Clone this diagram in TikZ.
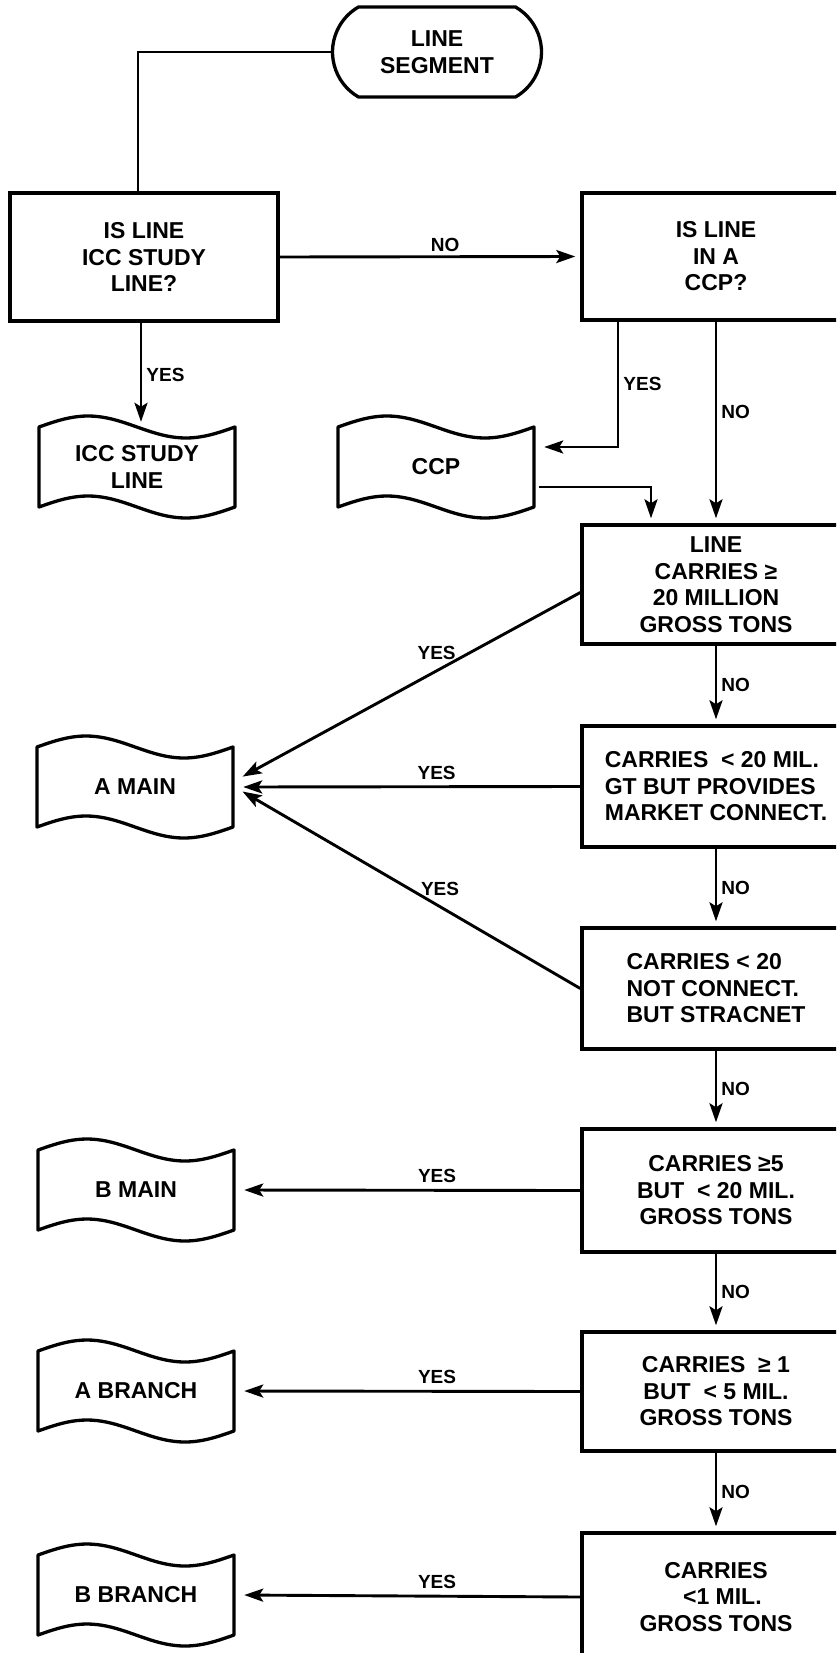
\documentclass[tikz,border=0pt]{standalone}
\usepackage{fontspec}
\setmainfont{Liberation Sans}
\usepackage{tikz}
\usetikzlibrary{arrows.meta, shapes.misc}

\newcommand{\boxfont}{\fontsize{23}{26.5}\selectfont\bfseries}
\newcommand{\lblfont}{\fontsize{19}{21}\selectfont\bfseries}

\tikzset{
  startbox/.style={draw, rounded rectangle, rounded rectangle arc length=120, line width=3.3pt,
    minimum width=209pt, minimum height=90pt, align=center, inner sep=0pt, font=\boxfont},
  testbox/.style={draw, line width=3.4pt, minimum width=268pt, minimum height=121pt,
    align=center, inner sep=0pt, font=\boxfont},
  doctext/.style={minimum width=206pt, minimum height=80pt, align=center, inner sep=0pt, font=\boxfont},
  docline/.style={line width=3.3pt, line join=round},
  conn/.style={line width=2.9pt},
  arr/.style={conn, -{Stealth[length=19pt, width=13pt, inset=4pt]}, shorten >=5pt},
  lbl/.style={font=\lblfont, inner sep=4pt}
}

% wavy document symbol: name, x, y, text
\newcommand{\wavedoc}[4]{%
  \draw[docline] ({#2-98},{#3-40}) -- ({#2-98},{#3+40})
    -- plot[domain=0:1, samples=41, variable=\t] ({#2-98+196*\t},{#3+40-11*sin(360*\t)})
    -- ({#2+98},{#3-40})
    -- plot[domain=1:0, samples=41, variable=\t] ({#2-98+196*\t},{#3-40-11*sin(360*\t)})
    -- cycle;
  \node[doctext] (#1) at (#2,#3) {#4};
}

\begin{document}
\begin{tikzpicture}[x=1pt, y=-1pt]
  \useasboundingbox (0,0) rectangle (836,1653);
  \clip (0,0) rectangle (836,1653);

  % Start and tests
  \node[startbox] (start) at (437,52) {LINE\\SEGMENT};
  \node[testbox, minimum height=128pt] (box1) at (144,257) {IS LINE\\ICC STUDY\\LINE?};
  \node[testbox, minimum height=127pt] (box2) at (716,256.5) {IS LINE\\IN A\\CCP?};
  \node[testbox, minimum height=119pt] (box3) at (716,584.5) {LINE\\CARRIES ≥\\20 MILLION\\GROSS TONS};
  \node[testbox, align=left] (box4) at (716,786.5) {CARRIES \ < 20 MIL.\\GT BUT PROVIDES\\MARKET CONNECT.};
  \node[testbox, align=left] (box5) at (716,988.5) {CARRIES < 20\\NOT CONNECT.\\BUT STRACNET};
  \node[testbox, minimum height=123pt] (box6) at (716,1190.5) {CARRIES ≥5\\BUT \ < 20 MIL.\\GROSS TONS};
  \node[testbox, minimum height=119pt] (box7) at (716,1391.5) {CARRIES \ ≥ 1\\BUT \ < 5 MIL.\\GROSS TONS};
  \node[testbox, minimum height=128pt] (box8) at (716,1597) {CARRIES\\\ \ <1 MIL.\\GROSS TONS};

  % Documents
  \wavedoc{icc}{137}{467}{ICC STUDY\\LINE}
  \wavedoc{ccp}{436}{467}{CCP}
  \wavedoc{amain}{135}{787}{A MAIN}
  \wavedoc{bmain}{136}{1190}{B MAIN}
  \wavedoc{abranch}{136}{1391}{A BRANCH}
  \wavedoc{bbranch}{136}{1595}{B BRANCH}

  % Connectors
  \draw[conn] (start.west) -| ([xshift=-6pt]box1.north);
  \draw[arr] (box1.east) -- node[lbl, above, pos=0.55] {NO} (box2.west);
  \draw[arr] ([xshift=-3pt]box1.south) -- node[lbl, right, pos=0.5] {YES} ([xshift=-3pt]box1.south |- icc.north);
  \draw[arr] ([xshift=-98pt]box2.south) |- node[lbl, right, pos=0.25] {YES} ([yshift=20pt]ccp.east);
  \draw[arr] (box2.south) -- node[lbl, right, pos=0.45] {NO} (box3.north);
  \draw[arr] ([yshift=-20pt]ccp.east) -| ([xshift=-65pt]box3.north);

  \draw[arr] ([yshift=-8pt]box3.west) -- node[lbl, above=6pt, pos=0.42] {YES} ([yshift=8pt]amain.east);
  \draw[arr] (box4.west) -- node[lbl, above=2pt, pos=0.42] {YES} (amain.east);
  \draw[arr] (box5.west) -- node[lbl, above=6pt, pos=0.41] {YES} ([yshift=-2pt]amain.east);
  \draw[arr] (box6.west) -- node[lbl, above=2pt, pos=0.42] {YES} (bmain.east);
  \draw[arr] (box7.west) -- node[lbl, above=2pt, pos=0.42] {YES} (abranch.east);
  \draw[arr] (box8.west) -- node[lbl, above=2pt, pos=0.42] {YES} (bbranch.east);

  \foreach \a/\b in {box3/box4, box4/box5, box5/box6, box6/box7, box7/box8}
    \draw[arr] (\a.south) -- node[lbl, right] {NO} (\b.north);
\end{tikzpicture}
\end{document}
